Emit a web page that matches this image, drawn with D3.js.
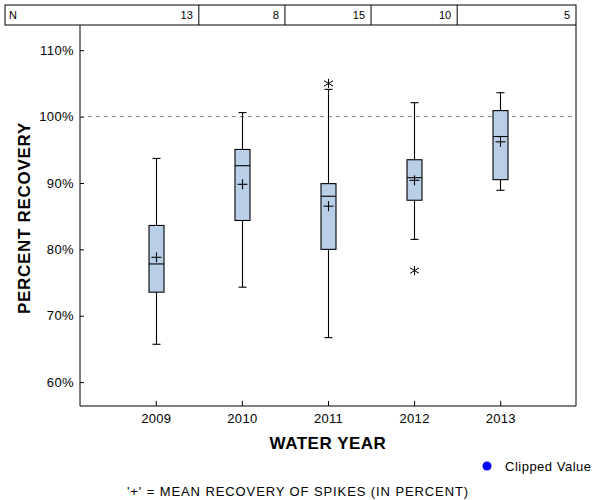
<!DOCTYPE html>
<html><head><meta charset="utf-8">
<script src="https://cdn.jsdelivr.net/npm/d3@7"></script>
<style>body{margin:0;background:#fff}svg{display:block}text{font-family:"Liberation Sans",Arial,sans-serif}</style>
</head><body><svg id="c" width="600" height="500"></svg>
<script>
const years = ["2009","2010","2011","2012","2013"];
const counts = [13, 8, 15, 10, 5];
const whiskerLow = [65.7, 74.3, 66.7, 81.5, 88.9];
const q1 = [73.55, 84.35, 80.0, 87.4, 90.5];
const median = [77.8, 92.6, 88.0, 90.8, 97.0];
const q3 = [83.6, 95.05, 89.9, 93.5, 100.9];
const whiskerHigh = [93.7, 100.6, 104.1, 102.1, 103.6];
const means = [78.8, 89.8, 86.5, 90.4, 96.2];
const outlierYears = ["2011", "2012"];
const outlierValues = [105.0, 76.8];
const yTicks = [60, 70, 80, 90, 100, 110];
const refLine = 100;

const svg = d3.select("#c");
const L = 80, R = 576, T = 25, B = 406;
const x = d3.scalePoint().domain(years).range([L, R]).padding(0.88);
const y = d3.scaleLinear().domain([56.4, 113.8]).range([B, T]);
const step = x.step();
const FF = '"Liberation Sans",Arial,sans-serif';

// N table
const tb = svg.append("g");
tb.append("rect").attr("x", 5).attr("y", 5).attr("width", R - 5).attr("height", 20)
  .attr("fill", "none").attr("stroke", "#000");
years.slice(0, -1).forEach(yr => {
  tb.append("line").attr("x1", x(yr) + step / 2).attr("x2", x(yr) + step / 2)
    .attr("y1", 5).attr("y2", 25).attr("stroke", "#000");
});
tb.append("text").attr("x", 9).attr("y", 19).attr("font-size", 11).text("N");
years.forEach((yr, i) => {
  const right = i === years.length - 1 ? R : x(yr) + step / 2;
  tb.append("text").attr("x", right - 6).attr("y", 19).attr("font-size", 11)
    .attr("text-anchor", "end").text(counts[i]);
});

// frame
svg.append("path").attr("d", `M${L},${T}V${B}H${R}V${T}`).attr("fill", "none").attr("stroke", "#000");

// y axis (inward ticks)
const yAxis = d3.axisLeft(y).tickValues(yTicks).tickSizeInner(-4).tickSizeOuter(0)
  .tickPadding(6).tickFormat(d => d + "%");
const ga = svg.append("g").attr("transform", `translate(${L},0)`).call(yAxis);
ga.select(".domain").remove();
ga.selectAll("text").attr("font-size", 13).attr("letter-spacing", 0.4).attr("fill", "#000").attr("font-family", FF);

// x axis (inward ticks)
const xAxis = d3.axisBottom(x).tickSizeInner(-5).tickSizeOuter(0).tickPadding(8);
const gx = svg.append("g").attr("transform", `translate(0,${B})`).call(xAxis);
gx.select(".domain").remove();
gx.selectAll("text").attr("font-size", 13).attr("letter-spacing", 0.3).attr("fill", "#000").attr("font-family", FF);

// reference line
svg.append("line").attr("x1", L).attr("x2", R).attr("y1", y(refLine)).attr("y2", y(refLine))
  .attr("stroke", "#808080").attr("stroke-dasharray", "4,4");

// boxes
const bw = 15, cap = 8, pl = 5;
years.forEach((yr, i) => {
  const cx = Math.round(x(yr)) + 0.5;
  const g = svg.append("g").attr("stroke", "#000").attr("stroke-width", 1.1);
  g.append("line").attr("x1", cx).attr("x2", cx).attr("y1", y(whiskerHigh[i])).attr("y2", y(q3[i]));
  g.append("line").attr("x1", cx).attr("x2", cx).attr("y1", y(q1[i])).attr("y2", y(whiskerLow[i]));
  g.append("line").attr("x1", cx - cap / 2).attr("x2", cx + cap / 2).attr("y1", y(whiskerHigh[i])).attr("y2", y(whiskerHigh[i]));
  g.append("line").attr("x1", cx - cap / 2).attr("x2", cx + cap / 2).attr("y1", y(whiskerLow[i])).attr("y2", y(whiskerLow[i]));
  g.append("rect").attr("x", cx - bw / 2).attr("width", bw).attr("y", y(q3[i]))
    .attr("height", y(q1[i]) - y(q3[i])).attr("fill", "#b9cfe8");
  g.append("line").attr("x1", cx - bw / 2).attr("x2", cx + bw / 2).attr("y1", y(median[i])).attr("y2", y(median[i]));
  const my = y(means[i]);
  g.append("line").attr("x1", cx - pl).attr("x2", cx + pl).attr("y1", my).attr("y2", my);
  g.append("line").attr("x1", cx).attr("x2", cx).attr("y1", my - pl).attr("y2", my + pl);
});

// outliers (asterisks)
outlierYears.forEach((yr, i) => {
  const cx = Math.round(x(yr)) + 0.5, cy = y(outlierValues[i]);
  const r = 4.5;
  svg.append("path").attr("stroke", "#000").attr("fill", "none").attr("stroke-width", 1)
    .attr("d", `M${cx},${cy - r}V${cy + r}M${cx - r},${cy - r * 0.6}L${cx + r},${cy + r * 0.6}M${cx - r},${cy + r * 0.6}L${cx + r},${cy - r * 0.6}`);
});

// axis titles
svg.append("text").attr("x", 328).attr("y", 449).attr("text-anchor", "middle")
  .attr("font-size", 17).attr("font-weight", "bold").attr("letter-spacing", 0.5).text("WATER YEAR");
svg.append("text").attr("transform", "translate(30,218) rotate(-90)").attr("text-anchor", "middle")
  .attr("font-size", 17).attr("font-weight", "bold").attr("letter-spacing", 0.7).text("PERCENT RECOVERY");

// legend
svg.append("circle").attr("cx", 487).attr("cy", 466).attr("r", 4.5).attr("fill", "#0000ff");
svg.append("text").attr("x", 505).attr("y", 471).attr("font-size", 13).attr("letter-spacing", 0.5).text("Clipped Value");

// footnote
svg.append("text").attr("x", 298).attr("y", 496).attr("text-anchor", "middle").attr("font-size", 13)
  .attr("letter-spacing", 0.9).text("'+' = MEAN RECOVERY OF SPIKES (IN PERCENT)");
</script></body></html>
